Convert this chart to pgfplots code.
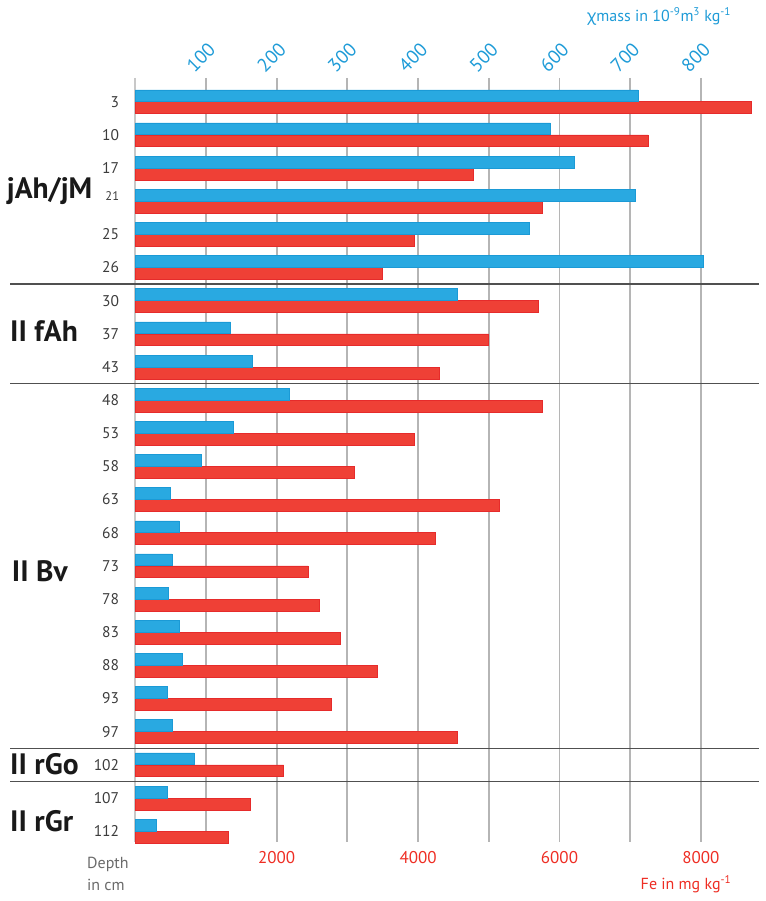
\documentclass[border=0pt]{standalone}
\usepackage{pgfplots}
\pgfplotsset{compat=1.18}
\usepackage{pgfplotstable}
\usepackage{fontspec}
\setmainfont{PT Sans}
\newfontfamily\grk{Noto Sans}
\definecolor{cblue}{HTML}{29A9E1}
\definecolor{cblueD}{HTML}{1B9AD6}
\definecolor{cred}{HTML}{EF4036}
\definecolor{credD}{HTML}{E62B2B}
\definecolor{tblue}{HTML}{1E9BD7}
\definecolor{tred}{HTML}{EE2E24}
\definecolor{lab}{HTML}{3C3C3C}
\definecolor{gridc}{HTML}{B5B5B5}
\definecolor{axc}{HTML}{C8C8C8}
\definecolor{sepc}{HTML}{505050}
\definecolor{depc}{HTML}{6A6A6A}
\newcommand{\tf}{\fontsize{19}{19}\selectfont}

\pgfplotstableread{
i chi fe
0 711 8710
1 587 7255
2 621 4775
3 707 5750
4 558 3946
5 804 3497
6 455 5704
7 135 4997
8 165 4304
9 218 5756
10 138 3950
11 93 3097
12 50 5152
13 62 4247
14 52 2446
15 47 2597
16 62 2894
17 67 3420
18 45 2772
19 53 4554
20 83 2097
21 45 1621
22 30 1319
}\data

\begin{document}
\begin{tikzpicture}
\begin{axis}[name=ax, at={(0,0)}, anchor=south west,
  scale only axis, width=629.7pt, height=763.7pt,
  xmin=0, xmax=8907, ymin=-0.715, ymax=22.32, y dir=reverse,
  axis line style={draw=none}, major tick length=0pt,
  xtick={1000,2000,3000,4000,5000,6000,7000,8000},
  xticklabels={,2000,,4000,,6000,,8000},
  xmajorgrids, grid style={draw=gridc, line width=1.8pt},
  extra x ticks={0}, extra x tick labels={},
  extra x tick style={grid style={draw=axc, line width=1.6pt}},
  xticklabel style={font=\fontsize{17}{17}\selectfont, text=tred, inner sep=0pt, anchor=north, yshift=-9pt},
  ytick={0,1,...,22},
  yticklabels={3,10,17,{\raisebox{1pt}[0pt][0pt]{\fontsize{12.5}{12.5}\selectfont 21}\hspace{6pt}},25,26,30,37,43,48,53,58,63,68,73,78,83,88,93,97,102,107,112},
  yticklabel style={font=\fontsize{15.5}{16}\selectfont, text=lab, inner sep=0pt, anchor=east, xshift=-16pt},
  clip=false,
]
\addplot[xbar, bar width=11.8pt, bar shift=0pt, fill=cred, draw=credD, line width=0.6pt]
  table[x=fe, y expr=\thisrow{i}+0.18] {\data};
\draw[sepc, line width=1.4pt] (axis cs:-1772,5.5) -- (axis cs:8822,5.5);
\draw[sepc, line width=1.4pt] (axis cs:-1772,8.5) -- (axis cs:8822,8.5);
\draw[sepc, line width=1.4pt] (axis cs:-1772,19.5) -- (axis cs:8822,19.5);
\draw[sepc, line width=1.4pt] (axis cs:-1772,20.5) -- (axis cs:8822,20.5);
\end{axis}
\begin{axis}[at={(ax.south west)}, anchor=south west,
  scale only axis, width=629.7pt, height=763.7pt,
  xmin=0, xmax=890.7, ymin=-0.715, ymax=22.32, y dir=reverse,
  axis line style={draw=none}, major tick length=0pt,
  xticklabel pos=top,
  xtick={100,200,300,400,500,600,700,800},
  xticklabels={100,200,300,400,500,600,700,800},
  xticklabel style={rotate=45, anchor=south west, inner sep=0pt, xshift=-5pt, yshift=11pt,
    font=\tf, text=tblue},
  ytick=\empty, clip=false,
]
\addplot[xbar, bar width=11.8pt, bar shift=0pt, fill=cblue, draw=cblueD, line width=0.6pt]
  table[x=chi, y expr=\thisrow{i}-0.18] {\data};
\end{axis}
% titles
\node[anchor=base, inner sep=0pt, font=\fontsize{16}{16}\selectfont, text=tblue]
  at ([xshift=523.7pt, yshift=56.3pt]ax.north west)
  {{\grk χ}mass in 10\textsuperscript{-9}m\textsuperscript{3} kg\textsuperscript{-1}};
\node[anchor=base, inner sep=0pt, font=\fontsize{16}{16}\selectfont, text=tred]
  at ([xshift=550.7pt, yshift=-48.3pt]ax.south west)
  {Fe in mg kg\textsuperscript{-1}};
\node[anchor=base west, inner sep=0pt, font=\fontsize{16}{16}\selectfont, text=depc]
  at ([xshift=-48.3pt, yshift=-27.3pt]ax.south west) {Depth};
\node[anchor=base west, inner sep=0pt, font=\fontsize{16}{16}\selectfont, text=depc]
  at ([xshift=-48.3pt, yshift=-49.3pt]ax.south west) {in cm};
% group labels
\begin{scope}[every node/.style={anchor=base west, inner sep=0pt, font=\fontsize{29.5}{29.5}\selectfont\bfseries, text=black!90}]
\node at ([xshift=-128.6pt, yshift=-120.3pt]ax.north west) {jAh/jM};
\node at ([xshift=-125.3pt, yshift=-263.7pt]ax.north west) {II fAh};
\node at ([xshift=-123.6pt, yshift=-503.7pt]ax.north west) {II Bv};
\node at ([xshift=-125.3pt, yshift=-697pt]ax.north west) {II rGo};
\node at ([xshift=-125.3pt, yshift=-753.7pt]ax.north west) {II rGr};
\end{scope}
\pgfresetboundingbox
\path ([xshift=-135.3pt, yshift=-59.3pt]ax.south west) rectangle ([yshift=78pt]ax.north east);
\end{tikzpicture}
\end{document}
